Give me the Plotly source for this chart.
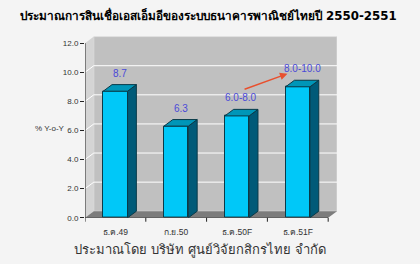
import plotly.graph_objects as go

categories = ["ธ.ค.49", "ก.ย.50", "ธ.ค.50F", "ธ.ค.51F"]
values = [8.7, 6.3, 7.0, 9.0]
labels = ["8.7", "6.3", "6.0-8.0", "8.0-10.0"]
yticks = [0, 2, 4, 6, 8, 10, 12]
ytick_text = ["0.0", "2.0", "4.0", "6.0", "8.0", "10.0", "12.0"]

title = "ประมาณการสินเชื่อเอสเอ็มอีของระบบธนาคารพาณิชย์ไทยปี 2550-2551"
footer = "ประมาณโดย บริษัท ศูนย์วิจัยกสิกรไทย จำกัด"

DX, DY = 0.145, 0.45   # 3D depth in axis units
BW = 0.4
YMAX = 12
FONT = "Tahoma, 'DejaVu Sans', Arial, sans-serif"

fig = go.Figure()
fig.add_trace(go.Bar(
    x=list(range(len(categories))), y=values, width=BW,
    marker=dict(color="#00c8f8", line=dict(color="#0a3a48", width=1)),
    hoverinfo="skip", showlegend=False,
))

shapes = []
n = len(categories)
L, R = -0.5, n - 0.5
# back wall
shapes.append(dict(type="rect", xref="x", yref="y", x0=L + DX, x1=R + DX, y0=DY, y1=YMAX + DY,
                   fillcolor="#c0c0c0", line=dict(color="#d8d8d8", width=1), layer="below"))
# left side wall
shapes.append(dict(type="path", xref="x", yref="y",
                   path=f"M {L},0 L {L},{YMAX} L {L+DX},{YMAX+DY} L {L+DX},{DY} Z",
                   fillcolor="#d4d4d4", line=dict(width=0), layer="below"))
# floor
shapes.append(dict(type="path", xref="x", yref="y",
                   path=f"M {L},0 L {R},0 L {R+DX},{DY} L {L+DX},{DY} Z",
                   fillcolor="#7c7c7c", line=dict(width=0), layer="below"))
# grid lines
for t in yticks[1:-1]:
    shapes.append(dict(type="line", xref="x", yref="y", x0=L + DX, x1=R + DX, y0=t + DY, y1=t + DY,
                       line=dict(color="#ffffff", width=1), layer="below"))
    shapes.append(dict(type="line", xref="x", yref="y", x0=L, x1=L + DX, y0=t, y1=t + DY,
                       line=dict(color="#ffffff", width=1), layer="below"))
# axis lines
shapes.append(dict(type="line", xref="x", yref="y", x0=L, x1=L, y0=0, y1=YMAX,
                   line=dict(color="#222222", width=1)))
shapes.append(dict(type="line", xref="x", yref="y", x0=L, x1=R, y0=0, y1=0,
                   line=dict(color="#222222", width=1)))
# 3D bar faces
for i, v in enumerate(values):
    xr = i + BW / 2
    xl = i - BW / 2
    shapes.append(dict(type="path", xref="x", yref="y",
                       path=f"M {xr},0 L {xr},{v} L {xr+DX},{v+DY} L {xr+DX},{DY} Z",
                       fillcolor="#005a78", line=dict(color="#0a3a48", width=1)))
    shapes.append(dict(type="path", xref="x", yref="y",
                       path=f"M {xl},{v} L {xr},{v} L {xr+DX},{v+DY} L {xl+DX},{v+DY} Z",
                       fillcolor="#0096b8", line=dict(color="#0a3a48", width=1)))

annotations = []
for i, (v, lab) in enumerate(zip(values, labels)):
    annotations.append(dict(x=i + DX / 2, y=v + DY, xref="x", yref="y", text=lab, showarrow=False,
                            yanchor="bottom", yshift=4,
                            font=dict(family="Arial, sans-serif", size=10, color="#4a4ad8")))
# red arrow from third label to fourth label
annotations.append(dict(x=2.83, y=9.9, ax=2.1, ay=8.8, xref="x", yref="y", axref="x", ayref="y",
                        text="", showarrow=True, arrowhead=2, arrowsize=1, arrowwidth=1.5,
                        arrowcolor="#e8502e"))
annotations.append(dict(x=50 / 420, y=(264 - 131) / 264, xref="paper", yref="paper", text="% Y-o-Y",
                        xanchor="center", yanchor="middle",
                        showarrow=False, font=dict(family="Arial, sans-serif", size=8, color="#333333")))
annotations.append(dict(x=0.496, y=(264 - 15) / 264, xref="paper", yref="paper", text="<b>" + title + "</b>",
                        xanchor="center", yanchor="middle",
                        showarrow=False, font=dict(family=FONT, size=11.8, color="#000000")))
annotations.append(dict(x=72 / 420, y=(264 - 255) / 264, xref="paper", yref="paper", text=footer,
                        xanchor="left", yanchor="middle",
                        showarrow=False, font=dict(family=FONT, size=13, color="#333333")))

fig.update_layout(
    width=420, height=264,
    margin=dict(l=0, r=0, t=0, b=0),
    paper_bgcolor="#f4f4f4", plot_bgcolor="rgba(0,0,0,0)",
    shapes=shapes, annotations=annotations,
    bargap=0,
    xaxis=dict(domain=[85 / 420, 337 / 420], range=[L, R + DX], tickmode="array",
               tickvals=list(range(n)), ticktext=categories, showgrid=False, zeroline=False,
               showline=False, ticks="", ticklabelstandoff=8,
               tickfont=dict(family="Arial, sans-serif", size=8.5, color="#333333"),
               fixedrange=True),
    yaxis=dict(domain=[(264 - 222) / 264, (264 - 37.3) / 264], range=[0, YMAX + DY],
               tickmode="array", tickvals=yticks, ticktext=ytick_text, showgrid=False, zeroline=False,
               showline=False, ticks="outside", ticklen=4, tickcolor="#222222",
               tickfont=dict(family="Arial, sans-serif", size=8, color="#333333"), fixedrange=True),
)
# x-axis boundary ticks as short lines below axis
for b in range(n + 1):
    fig.add_shape(type="line", xref="x", yref="paper", x0=b - 0.5, x1=b - 0.5,
                  y0=(264 - 222) / 264 - 4 / 264, y1=(264 - 222) / 264, line=dict(color="#222222", width=1))

fig.write_html("out.html")
